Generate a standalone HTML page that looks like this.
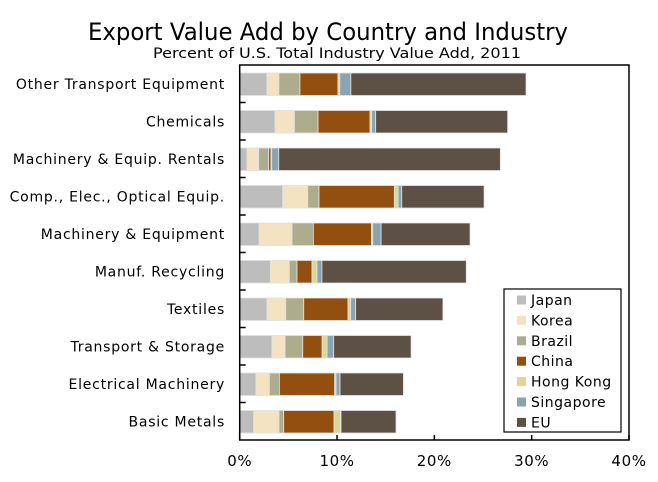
<!DOCTYPE html>
<html><head><meta charset="utf-8"><style>
body{margin:0;background:#fff}
svg{display:block;font-family:"DejaVu Sans","Liberation Sans",sans-serif}
</style></head><body>
<svg id="chart" width="658" height="482" viewBox="0 0 658 482" xmlns="http://www.w3.org/2000/svg">
<text x="328" y="40" font-size="24" text-anchor="middle" textLength="480" lengthAdjust="spacingAndGlyphs" fill="#000">Export Value Add by Country and Industry</text>
<text x="337" y="58" font-size="14" text-anchor="middle" textLength="368" lengthAdjust="spacingAndGlyphs" fill="#000">Percent of U.S. Total Industry Value Add, 2011</text>
<g id="bars"></g>
<g id="axes"></g>
<g id="legend"></g>
</svg>
<script>
const categories = ["Other Transport Equipment","Chemicals","Machinery & Equip. Rentals","Comp., Elec., Optical Equip.","Machinery & Equipment","Manuf. Recycling","Textiles","Transport & Storage","Electrical Machinery","Basic Metals"];
const seriesNames = ["Japan","Korea","Brazil","China","Hong Kong","Singapore","EU"];
const japan = [2.8,3.63,0.75,4.42,1.99,3.15,2.81,3.32,1.68,1.44];
const korea = [1.23,1.99,1.2,2.57,3.39,1.95,1.92,1.34,1.37,2.6];
const brazil = [2.16,2.43,1.03,1.16,2.19,0.79,1.85,1.82,1.03,0.48];
const china = [3.9,5.34,0.24,7.74,5.96,1.54,4.55,1.99,5.68,5.17];
const hongKong = [0.2,0.17,0.07,0.38,0.14,0.51,0.27,0.51,0.14,0.65];
const singapore = [1.13,0.41,0.72,0.38,0.86,0.51,0.51,0.68,0.41,0.07];
const eu = [18.0,13.56,22.77,8.46,9.14,14.83,8.97,7.95,6.51,5.65];
const xTicks = [0,10,20,30,40];
const xTickLabels = ["0%","10%","20%","30%","40%"];

const seriesValues = [japan,korea,brazil,china,hongKong,singapore,eu];
const colors = ["#bdbdbd","#f3e3c0","#adac8c","#924f10","#dcd894","#8aa3b3","#5d5044"];
const NS = "http://www.w3.org/2000/svg";
const L = 239.7, R = 629, T = 65, B = 440;
const rowH = (B - T) / categories.length;
const x = v => L + v / 40 * (R - L);
const y = i => T + i * rowH;
function mk(tag, attrs, parent){const e=document.createElementNS(NS,tag);for(const k in attrs)e.setAttribute(k,attrs[k]);parent.appendChild(e);return e;}

const bars = document.getElementById('bars');
categories.forEach((c,i)=>{
  let acc = 0;
  seriesValues.forEach((arr,s)=>{
    const v = arr[i];
    const r = mk('rect',{x:x(acc),y:y(i)+8,width:x(acc+v)-x(acc),height:rowH-15,fill:colors[s],stroke:"#e2e2e2","stroke-width":"0.8"},bars);
    
    
    acc += v;
  });
  const t = mk('text',{x:225,y:y(i)+rowH/2+5,"font-size":"14","letter-spacing":"0.75","text-anchor":"end",fill:"#000"},bars);
  t.textContent = c;
  
  
});

const axes = document.getElementById('axes');
const frame = mk('rect',{x:L,y:T,width:R-L,height:B-T,fill:"none",stroke:"#000","stroke-width":"1.5"},axes);


for(let i=1;i<categories.length;i++){
  const tk = mk('line',{x1:L,x2:L+6,y1:y(i),y2:y(i),stroke:"#000","stroke-width":"1.5"},axes);
  
  
}
xTicks.forEach((v,i)=>{
  const tk = mk('line',{x1:x(v),x2:x(v),y1:B,y2:B-5,stroke:"#000","stroke-width":"1.5"},axes);
  
  
  const t = mk('text',{x:x(v),y:466,"font-size":"15","letter-spacing":"0.6","text-anchor":"middle",fill:"#000"},axes);
  t.textContent = xTickLabels[i];
  
  
});

const legend = document.getElementById('legend');
const lb = mk('rect',{x:504,y:289,width:117,height:143,fill:"#fff",stroke:"#000","stroke-width":"1.2"},legend);


seriesNames.forEach((n,i)=>{
  const cy = 300 + i*20.4;
  const sw = mk('rect',{x:517,y:cy-4.5,width:9,height:9,fill:colors[i]},legend);
  
  
  const t = mk('text',{x:531,y:cy+5,"font-size":"14","letter-spacing":"0.5",fill:"#000"},legend);
  t.textContent = n;
  
  
});
</script>
</body></html>
